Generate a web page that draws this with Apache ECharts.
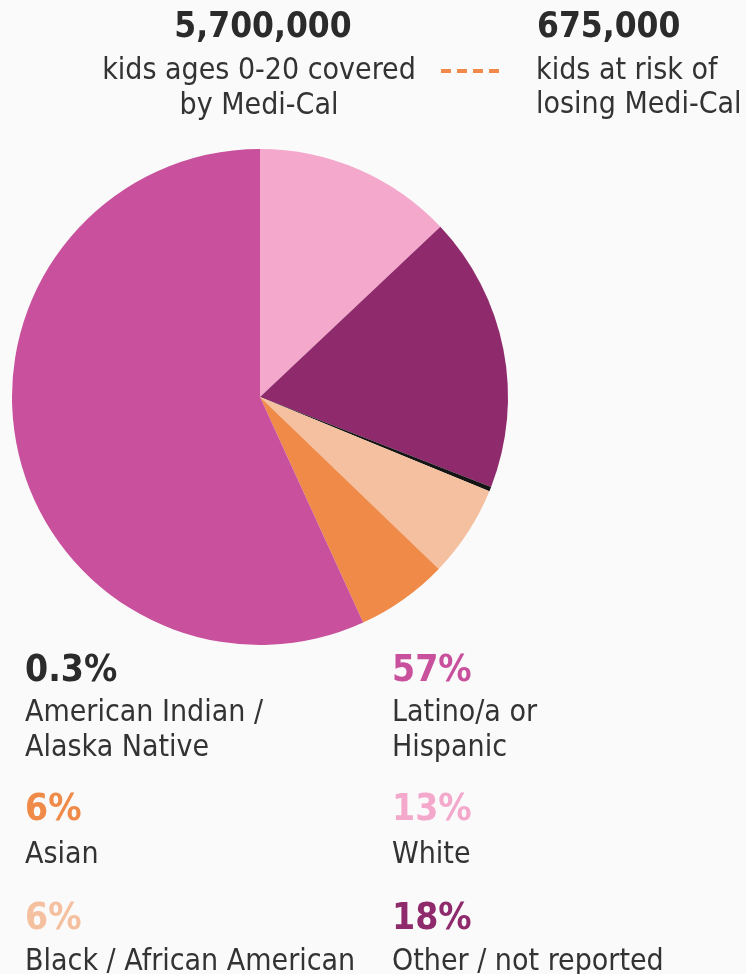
<!DOCTYPE html>
<html>
<head>
<meta charset="utf-8">
<script src="https://cdn.jsdelivr.net/npm/echarts@6/dist/echarts.min.js"></script>
<style>
  html, body { margin: 0; padding: 0; background: #fafafa; }
  #mainView { width: 746px; height: 974px; }
</style>
</head>
<body>
<div id="mainView"></div>
<script>
// slices clockwise from 12 o'clock
var categories = ['White', 'Other / not reported', 'American Indian / Alaska Native', 'Black / African American', 'Asian', 'Latino/a or Hispanic'];
var shares = [13, 18, 0.3, 6, 6, 57];
var palette = ['#f4a8cc', '#8f2a6c', '#151515', '#f4c09f', '#f08a48', '#c8509c'];

// legend blocks: [share label, line 1, line 2, colour]
var legendLeft = [
    ['0.3%', 'American Indian /', 'Alaska Native', '#2b2b2b'],
    ['6%', 'Asian', '', '#f08a48'],
    ['6%', 'Black / African American', '', '#f4c09f']
];
var legendRight = [
    ['57%', 'Latino/a or', 'Hispanic', '#c8509c'],
    ['13%', 'White', '', '#f4a8cc'],
    ['18%', 'Other / not reported', '', '#8f2a6c']
];

var headTotal = '5,700,000';
var headTotalText = ['kids ages 0-20 covered', 'by Medi-Cal'];
var headRisk = '675,000';
var headRiskText = ['kids at risk of', 'losing Medi-Cal'];

showMainView();

function showMainView() {
    var chart = echarts.init(document.getElementById('mainView'));
    var g = [];
    var font = '"Liberation Sans Narrow", "DejaVu Sans Condensed", sans-serif';

    function t(x, y, s, size, color, weight, align) {
        g.push({
            type: 'text', x: x, y: y,
            style: {
                text: s, fill: color,
                font: (weight || 'normal') + ' ' + size + 'px ' + font,
                align: align || 'left', verticalAlign: 'middle'
            }
        });
    }

    t(263, 28, headTotal, 35, '#2b2b2b', 'bold', 'center');
    t(259, 71, headTotalText[0], 30, '#333', 'normal', 'center');
    t(259, 106, headTotalText[1], 30, '#333', 'normal', 'center');
    t(537, 28, headRisk, 35, '#2b2b2b', 'bold', 'left');
    t(536, 71, headRiskText[0], 30, '#333', 'normal', 'left');
    t(536, 105, headRiskText[1], 30, '#333', 'normal', 'left');
    g.push({
        type: 'line',
        shape: { x1: 441, y1: 71, x2: 500, y2: 71 },
        style: { stroke: '#f08a48', lineWidth: 4, lineDash: [10, 6] }
    });

    // [pct y, line1 y, line2 y]
    var rows = [[671, 713, 748], [810, 855, 0], [919, 962, 0]];
    var cols = [[25, legendLeft], [392, legendRight]];
    cols.forEach(function (c) {
        c[1].forEach(function (item, i) {
            var r = rows[i];
            t(c[0], r[0], item[0], 37, item[3], 'bold', 'left');
            t(c[0], r[1], item[1], 30, '#333', 'normal', 'left');
            if (item[2]) t(c[0], r[2], item[2], 30, '#333', 'normal', 'left');
        });
    });

    chart.setOption({
        backgroundColor: '#fafafa',
        animation: false,
        color: palette,
        graphic: g,
        series: [{
            type: 'pie',
            center: [260, 397],
            radius: [0, 248],
            startAngle: 90,
            clockwise: true,
            label: { show: false },
            labelLine: { show: false },
            silent: true,
            data: categories.map(function (c, i) {
                return { name: c, value: shares[i] };
            })
        }]
    });
}
</script>
</body>
</html>
